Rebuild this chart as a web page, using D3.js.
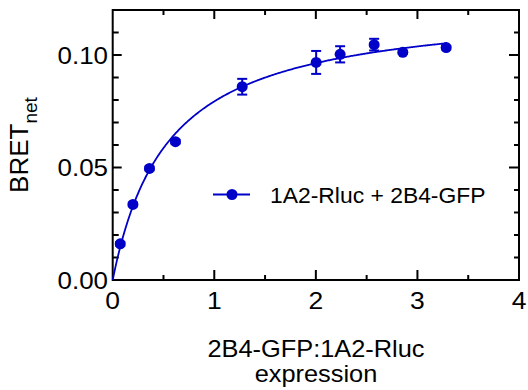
<!DOCTYPE html>
<html><head><meta charset="utf-8">
<script src="https://cdn.jsdelivr.net/npm/d3@7"></script>
<style>body{margin:0;background:#fff} text{font-family:"Liberation Sans",Arial,Helvetica,sans-serif;fill:#000}</style>
</head><body>
<svg id="c" width="528" height="390"></svg>
<script>
// ---- data ----
const xVals = [0.074, 0.199, 0.362, 0.618, 1.275, 2.003, 2.239, 2.574, 2.856, 3.283];
const yVals = [0.0161, 0.0336, 0.0496, 0.0615, 0.0859, 0.0967, 0.1003, 0.1046, 0.1012, 0.1033];
const yErr  = [0.0008, 0.0008, 0.0008, 0.0008, 0.0035, 0.0051, 0.0036, 0.0026, 0.0008, 0.0008];
const xTicks = [0, 1, 2, 3, 4];
const xTickLabels = ["0", "1", "2", "3", "4"];
const yTicks = [0, 0.05, 0.10];
const yTickLabels = ["0.00", "0.05", "0.10"];
const xMinor = [0.5, 1.5, 2.5, 3.5];
const yMinor = [0.01, 0.02, 0.03, 0.04, 0.06, 0.07, 0.08, 0.09, 0.11];
const fitBmax = 0.1227, fitKd = 0.546;   // one-site saturation fit
const seriesName = "1A2-Rluc + 2B4-GFP";
const xTitle1 = "2B4-GFP:1A2-Rluc", xTitle2 = "expression";
const yTitleMain = "BRET", yTitleSub = "net";

// ---- layout ----
const color = "#0000c8";
const L = 112.7, R = 519, T = 10, B = 280;
const svg = d3.select("#c");
const x = d3.scaleLinear().domain([0, 4]).range([L, R]);
const y = d3.scaleLinear().domain([0, 0.12]).range([B, T]);
const SX = 1.08; // horizontal stretch of text in reference

function stretchedText(g, px, py, str, size, anchor) {
  return g.append("text")
    .attr("transform", `translate(${px},${py}) scale(${SX},1)`)
    .attr("font-size", size).attr("text-anchor", anchor).text(str);
}

// frame
svg.append("rect").attr("x", L).attr("y", T).attr("width", R - L).attr("height", B - T)
  .attr("fill", "none").attr("stroke", "#000").attr("stroke-width", 2);

const ticks = svg.append("g").attr("stroke", "#000").attr("stroke-width", 2);
// bottom + top ticks (inward)
xTicks.slice(1, -1).forEach(v => {
  ticks.append("line").attr("x1", x(v)).attr("x2", x(v)).attr("y1", B).attr("y2", B - 10);
  ticks.append("line").attr("x1", x(v)).attr("x2", x(v)).attr("y1", T).attr("y2", T + 9);
});
xMinor.forEach(v => {
  ticks.append("line").attr("x1", x(v)).attr("x2", x(v)).attr("y1", B).attr("y2", B - 5);
  ticks.append("line").attr("x1", x(v)).attr("x2", x(v)).attr("y1", T).attr("y2", T + 5);
});
// left + right ticks (inward)
yTicks.slice(1).forEach(v => {
  ticks.append("line").attr("y1", y(v)).attr("y2", y(v)).attr("x1", L).attr("x2", L + 9);
  ticks.append("line").attr("y1", y(v)).attr("y2", y(v)).attr("x1", R).attr("x2", R - 10);
});
yMinor.forEach(v => {
  ticks.append("line").attr("y1", y(v)).attr("y2", y(v)).attr("x1", L).attr("x2", L + 6);
  ticks.append("line").attr("y1", y(v)).attr("y2", y(v)).attr("x1", R).attr("x2", R - 5);
});

// tick labels
const lab = svg.append("g");
xTicks.forEach((v, i) => stretchedText(lab, x(v), 309, xTickLabels[i], 24.5, "middle"));
yTicks.forEach((v, i) => stretchedText(lab, 108, y(v) + 8.6, yTickLabels[i], 24, "end"));

// axis titles
stretchedText(lab, 316, 356.5, xTitle1, 23.5, "middle");
stretchedText(lab, 316, 381.5, xTitle2, 23.5, "middle");
const yt = svg.append("text").attr("transform", "translate(28,145) rotate(-90)")
  .attr("text-anchor", "middle").attr("font-size", 26);
yt.append("tspan").text(yTitleMain);
yt.append("tspan").attr("font-size", 19).attr("dy", 9).text(yTitleSub);

// fitted curve
const curveX = d3.range(0, 3.29, 0.01).concat([3.29]);
svg.append("path")
  .datum(curveX.map(v => [v, fitBmax * v / (fitKd + v)]))
  .attr("d", d3.line().x(d => x(d[0])).y(d => y(d[1])))
  .attr("fill", "none").attr("stroke", color).attr("stroke-width", 1.8);

// error bars
const eb = svg.append("g").attr("stroke", color).attr("stroke-width", 2);
xVals.forEach((xv, i) => {
  const y1 = y(yVals[i] + yErr[i]), y2 = y(yVals[i] - yErr[i]);
  eb.append("line").attr("x1", x(xv)).attr("x2", x(xv)).attr("y1", y1).attr("y2", y2);
  eb.append("line").attr("x1", x(xv) - 5).attr("x2", x(xv) + 5).attr("y1", y1).attr("y2", y1);
  eb.append("line").attr("x1", x(xv) - 5).attr("x2", x(xv) + 5).attr("y1", y2).attr("y2", y2);
});

// points
svg.append("g").selectAll("circle").data(xVals).join("circle")
  .attr("cx", d => x(d)).attr("cy", (d, i) => y(yVals[i])).attr("r", 5.5).attr("fill", color);

// legend
const lg = svg.append("g");
lg.append("line").attr("x1", 213).attr("x2", 250).attr("y1", 194.5).attr("y2", 194.5)
  .attr("stroke", color).attr("stroke-width", 1.8);
lg.append("circle").attr("cx", 232).attr("cy", 194.5).attr("r", 5.5).attr("fill", color);
stretchedText(lg, 270, 202.5, seriesName, 21.2, "start");
</script>
</body></html>
